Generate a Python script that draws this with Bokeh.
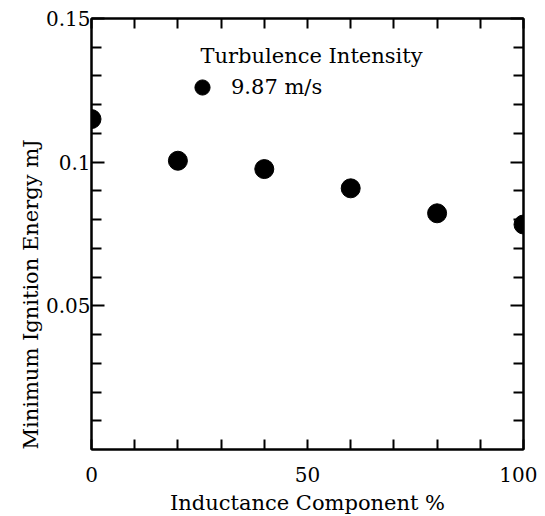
from bokeh.plotting import figure
from bokeh.models import LinearAxis, FixedTicker, Legend, LegendItem, Label, Title
from bokeh.embed import file_html
from bokeh.resources import INLINE

# data
inductance_pct = [0, 20, 40, 60, 80, 100]
min_ignition_energy = [0.115, 0.1005, 0.0976, 0.0909, 0.0822, 0.0783]
series_label = "9.87 m/s"
legend_title = "Turbulence Intensity"
x_title = "Inductance Component %"
y_title = "Minimum Ignition Energy mJ"
x_major = [0, 50, 100]
x_minor = [10, 20, 30, 40, 60, 70, 80, 90]
y_major = [0.05, 0.1, 0.15]
y_major_labels = ["0.05", "0.1", "0.15"]
y_minor = [0.01, 0.02, 0.03, 0.04, 0.06, 0.07, 0.08, 0.09, 0.11, 0.12, 0.13, 0.14]

FONT = "DejaVu Serif"

p = figure(frame_width=432, frame_height=431, x_range=(0, 100), y_range=(0, 0.15),
           output_backend="svg", toolbar_location=None,
           min_border_left=91, min_border_top=18, min_border_right=14, min_border_bottom=66,
           x_axis_label=x_title)
p.grid.visible = False
p.outline_line_color = "black"
p.outline_line_width = 2
p.background_fill_color = "white"
p.border_fill_color = "white"

def style(ax, ticker, length_major, length_minor):
    ax.ticker = ticker
    ax.axis_line_width = 2
    ax.axis_line_color = "black"
    ax.major_tick_in = length_major
    ax.major_tick_out = 0
    ax.minor_tick_in = length_minor
    ax.minor_tick_out = 0
    ax.major_tick_line_width = 2
    ax.minor_tick_line_width = 2
    ax.major_label_text_font = FONT
    ax.major_label_text_font_size = "20px"
    ax.major_label_text_color = "black"
    ax.axis_label_text_font = FONT
    ax.axis_label_text_font_size = "21px"
    ax.axis_label_text_font_style = "normal"
    ax.axis_label_text_color = "black"

style(p.xaxis[0], FixedTicker(ticks=x_major, minor_ticks=x_minor), 10, 10)
p.xaxis[0].major_label_standoff = 17
p.xaxis[0].axis_label_standoff = 6
style(p.yaxis[0], FixedTicker(ticks=y_major, minor_ticks=y_minor), 13, 10)
p.yaxis[0].major_label_standoff = 1
p.yaxis[0].major_label_overrides = {v: s for v, s in zip(y_major, y_major_labels)}

top = LinearAxis()
style(top, FixedTicker(ticks=x_major, minor_ticks=x_minor), 10, 10)
top.major_label_overrides = {v: "" for v in x_major}
top.major_label_text_font_size = "1px"
top.major_label_standoff = 0
p.add_layout(top, "above")
right = LinearAxis()
style(right, FixedTicker(ticks=y_major, minor_ticks=y_minor), 13, 10)
right.major_label_overrides = {v: "" for v in y_major}
right.major_label_text_font_size = "1px"
right.major_label_standoff = 0
p.add_layout(right, "right")

r = p.scatter(inductance_pct, min_ignition_energy, size=19, color="black")

legend = Legend(items=[LegendItem(label=series_label, renderers=[r])], location=(92, 343))
legend.label_text_font = FONT
legend.label_text_font_size = "21px"
legend.label_text_color = "black"
legend.padding = 0
legend.margin = 0
legend.border_line_color = None
legend.background_fill_alpha = 0
legend.glyph_width = 38
legend.glyph_height = 38
legend.label_standoff = 10
legend.spacing = 0
p.add_layout(legend)

title_label = Label(x=109, y=394, x_units="screen", y_units="screen", text=legend_title,
                    text_font=FONT, text_font_size="21px", text_color="black",
                    text_baseline="alphabetic")
p.add_layout(title_label)

y_label = Title(text=y_title, align="left", text_font=FONT,
                text_font_size="21px", text_font_style="normal", text_color="black",
                standoff=0)
p.add_layout(y_label, "left")

open("out.html", "w").write(file_html(p, INLINE))
